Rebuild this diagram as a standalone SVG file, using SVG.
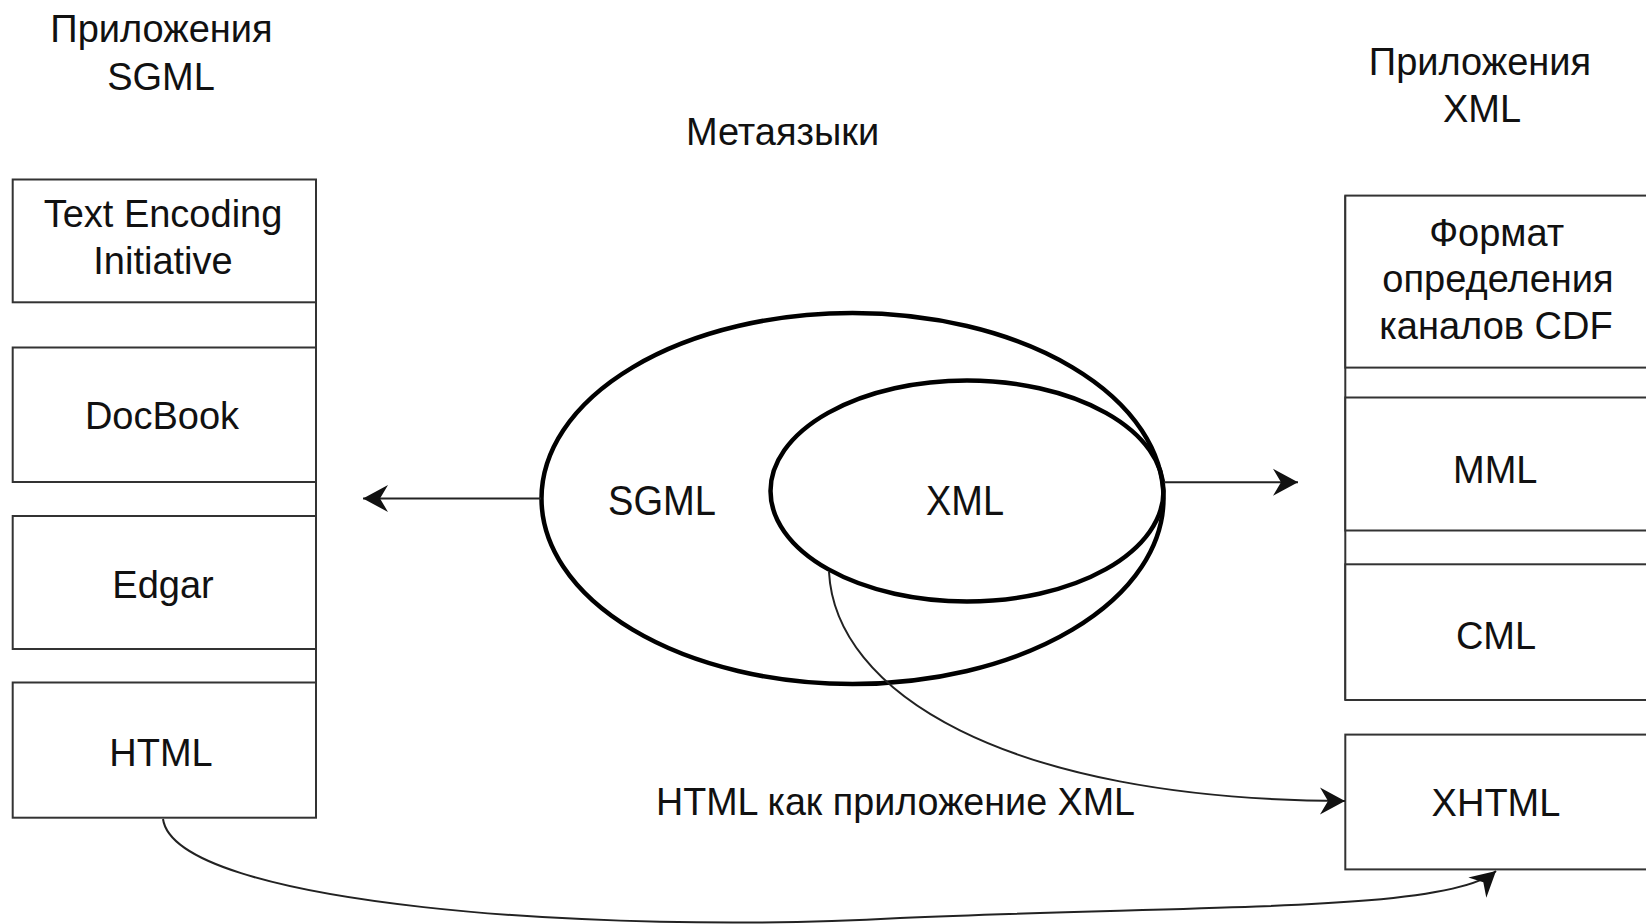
<svg xmlns="http://www.w3.org/2000/svg" width="1646" height="924" viewBox="0 0 1646 924">
<style>
  .box { fill: #ffffff; stroke: #333333; stroke-width: 2; }
  .edge { fill: none; stroke: #333333; stroke-width: 2; }
  .ell { fill: none; stroke: #000000; stroke-width: 4.5; }
  .conn { fill: none; stroke: #222222; stroke-width: 2; }
  .t { font-family: "Liberation Sans", Arial, sans-serif; font-size: 38px; fill: #111111; text-anchor: middle; }
  .tc { font-family: "Liberation Sans", Arial, sans-serif; fill: #111111; }
</style>
<defs>
  <marker id="arr" markerUnits="userSpaceOnUse" markerWidth="32" markerHeight="32" viewBox="-27 -16 32 32" refX="0" refY="0" orient="auto">
    <path d="M0,0 L-25,-13.5 L-17,0 L-25,13.5 Z" fill="#111111"/>
  </marker>
</defs>
<rect width="1646" height="924" fill="#ffffff"/>

<g id="titles">
  <text class="t" x="161.5" y="41.7">Приложения</text>
  <text class="t" x="161" y="90">SGML</text>
  <text class="t" x="782.5" y="145">Метаязыки</text>
  <text class="t" x="1480" y="75">Приложения</text>
  <text class="t" x="1482" y="121.7">XML</text>
</g>

<g id="sgml-apps">
  <line class="edge" x1="316" y1="179.5" x2="316" y2="817.7"/>
  <g id="tei">
    <rect class="box" x="12.7" y="179.5" width="303.3" height="122.8"/>
    <text class="t" x="163" y="227.3">Text Encoding</text>
    <text class="t" x="163" y="273.6">Initiative</text>
  </g>
  <g id="docbook">
    <rect class="box" x="12.7" y="347.5" width="303.3" height="134.5"/>
    <text class="t" x="162" y="429.4">DocBook</text>
  </g>
  <g id="edgar">
    <rect class="box" x="12.7" y="516" width="303.3" height="133"/>
    <text class="t" x="163" y="597.7">Edgar</text>
  </g>
  <g id="html">
    <rect class="box" x="12.7" y="682.5" width="303.3" height="135.2"/>
    <text class="t" x="161" y="766">HTML</text>
  </g>
</g>

<g id="metalanguages">
  <g id="sgml">
    <ellipse class="ell" cx="852.5" cy="498.5" rx="311" ry="185.5"/>
    <text class="tc" x="608" y="515" font-size="42" textLength="108" lengthAdjust="spacingAndGlyphs">SGML</text>
  </g>
  <g id="xml">
    <ellipse class="ell" cx="967" cy="491" rx="196.5" ry="110.5"/>
    <text class="tc" x="926" y="515" font-size="42" textLength="78" lengthAdjust="spacingAndGlyphs">XML</text>
  </g>
</g>

<g id="xml-apps">
  <line class="edge" x1="1345.3" y1="195.6" x2="1345.3" y2="700"/>
  <g id="cdf">
    <rect class="box" x="1345.3" y="195.6" width="303" height="172"/>
    <text class="t" x="1496.7" y="245.6">Формат</text>
    <text class="t" x="1498" y="291.6">определения</text>
    <text class="t" x="1496" y="338.5">каналов CDF</text>
  </g>
  <g id="mml">
    <rect class="box" x="1345.3" y="397.5" width="303" height="133"/>
    <text class="t" x="1495.3" y="482.7">MML</text>
  </g>
  <g id="cml">
    <rect class="box" x="1345.3" y="564.3" width="303" height="135.7"/>
    <text class="t" x="1496" y="648.7">CML</text>
  </g>
  <g id="xhtml">
    <rect class="box" x="1345.3" y="734.6" width="303" height="134.8"/>
    <text class="t" x="1496" y="816">XHTML</text>
  </g>
</g>

<g id="connectors">
  <line class="conn" x1="541" y1="498.5" x2="363" y2="498.5" marker-end="url(#arr)"/>
  <line class="conn" x1="1164" y1="482.3" x2="1298" y2="482.3" marker-end="url(#arr)"/>
  <path class="conn" d="M829,572 C835,690 1000,800 1345,801" marker-end="url(#arr)"/>
  <path class="conn" d="M163,819 C175,905 600,935 900,918 C1200,905 1450,912 1496,871" marker-end="url(#arr)"/>
  <text class="tc" x="656" y="815" font-size="39" textLength="479" lengthAdjust="spacingAndGlyphs">HTML как приложение XML</text>
</g>
</svg>
